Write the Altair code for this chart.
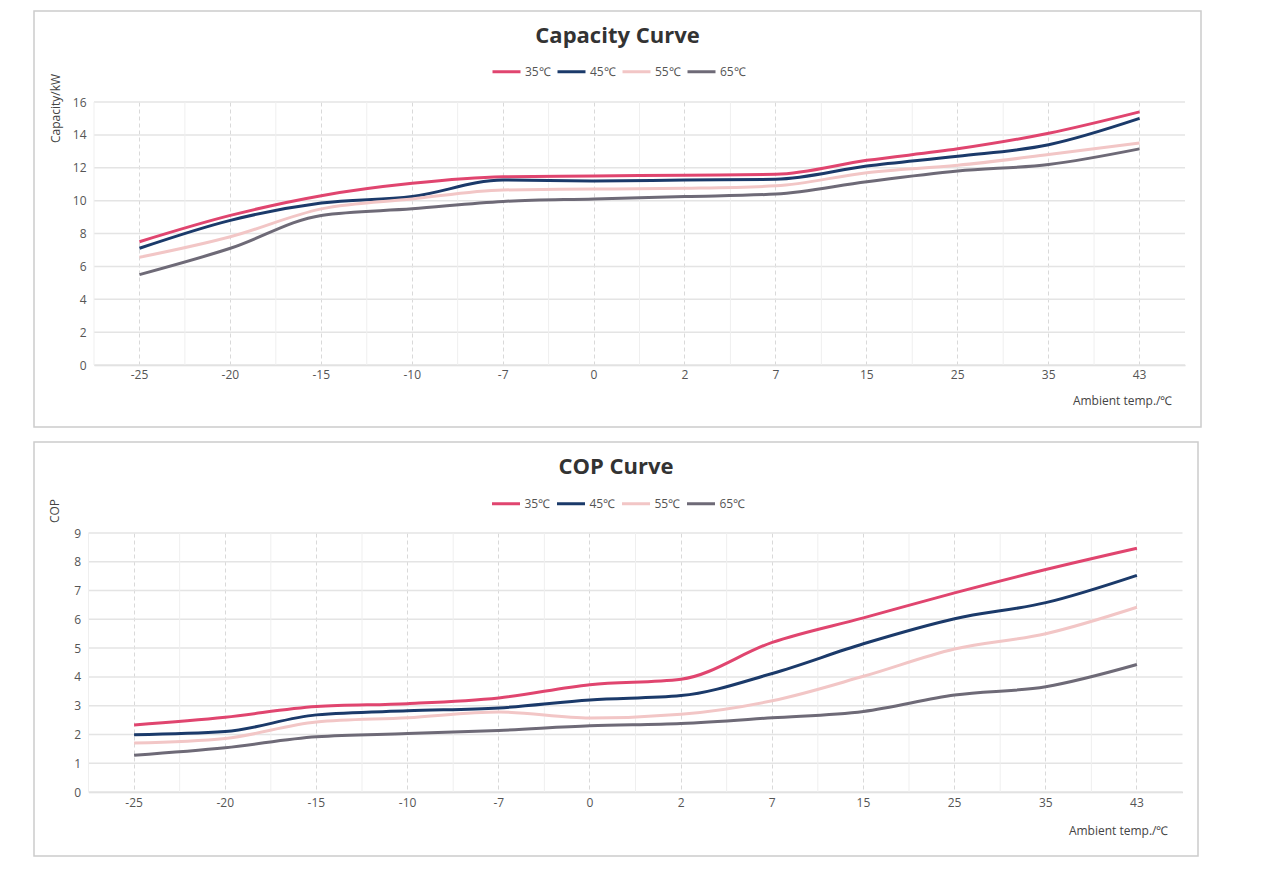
import altair as alt
import pandas as pd

# ---------------- data ----------------
temps = ["-25", "-20", "-15", "-10", "-7", "0", "2", "7", "15", "25", "35", "43"]
series_names = ["35℃", "45℃", "55℃", "65℃"]
colors = ["#E0456F", "#1B3A6A", "#F2C6C6", "#6E6A77"]

cap_35 = [7.5, 9.1, 10.3, 11.05, 11.45, 11.5, 11.55, 11.6, 12.45, 13.15, 14.1, 15.4]
cap_45 = [7.1, 8.8, 9.85, 10.25, 11.25, 11.2, 11.25, 11.3, 12.1, 12.7, 13.4, 15.0]
cap_55 = [6.55, 7.8, 9.5, 10.1, 10.65, 10.7, 10.75, 10.9, 11.7, 12.15, 12.8, 13.5]
cap_65 = [5.5, 7.1, 9.1, 9.5, 9.95, 10.1, 10.25, 10.4, 11.15, 11.8, 12.2, 13.15]

cop_35 = [2.33, 2.6, 2.97, 3.07, 3.27, 3.73, 3.92, 5.2, 6.05, 6.92, 7.73, 8.47]
cop_45 = [1.99, 2.1, 2.68, 2.82, 2.92, 3.2, 3.35, 4.12, 5.15, 6.02, 6.58, 7.53]
cop_55 = [1.7, 1.86, 2.43, 2.58, 2.78, 2.57, 2.7, 3.17, 4.02, 4.97, 5.5, 6.42]
cop_65 = [1.28, 1.54, 1.92, 2.03, 2.14, 2.3, 2.38, 2.58, 2.8, 3.37, 3.66, 4.43]

cap_ticks = [0, 2, 4, 6, 8, 10, 12, 14, 16]
cop_ticks = [0, 1, 2, 3, 4, 5, 6, 7, 8, 9]

cap_title = "Capacity Curve"
cop_title = "COP Curve"
cap_ytitle = "Capacity/kW"
cop_ytitle = "COP"
x_title = "Ambient temp./℃"

FONT = "Open Sans"


def long_df(cols):
    rows = []
    for name, vals in zip(series_names, cols):
        for t, v in zip(temps, vals):
            rows.append({"temp": t, "series": name, "value": v})
    return pd.DataFrame(rows)


def panel(df, title, ytitle, ticks, W, H, x0, frame, title_xy, legend_xy,
          ytitle_xy, xtitle_xy, xlabel_pad, ylabel_pad):
    # x0: left edge of the band area relative to the group origin
    xscale = alt.Scale(type="band", paddingInner=0, paddingOuter=0, domain=temps,
                       range=[x0, W])
    yscale = alt.Scale(domain=[ticks[0], ticks[-1]], nice=False)
    x_axis = alt.Axis(
        title=x_title, bandPosition=0.5, grid=True, gridColor="#d9d9d9",
        gridDash=[4, 3], gridWidth=1, ticks=False, domain=True,
        domainColor="#dcdcdc", domainWidth=1.5, labelAngle=0, labelAlign="center",
        labelFontSize=12, labelColor="#555555", labelPadding=xlabel_pad,
        labelFont=FONT, titleFont=FONT, titleFontSize=12, titleFontWeight="normal",
        titleColor="#444444", titleX=xtitle_xy[0], titleY=xtitle_xy[1],
        titleAlign="right", titleBaseline="middle",
    )
    y_axis = alt.Axis(
        title=ytitle, values=ticks, grid=False,
        domain=False, ticks=False, labelPadding=ylabel_pad, labelFontSize=12,
        labelColor="#555555", labelFont=FONT, titleFont=FONT, titleFontSize=12,
        titleFontWeight="normal", titleColor="#444444", titleAngle=270,
        titleX=ytitle_xy[0], titleY=ytitle_xy[1], titleAlign="center",
        titleBaseline="middle",
    )

    frame_layer = alt.Chart(pd.DataFrame({"a": [0]})).mark_rect(
        filled=False, stroke="#cccccc", strokeWidth=1.5
    ).encode(
        x=alt.value(frame[0]), x2=alt.value(frame[1]),
        y=alt.value(frame[2]), y2=alt.value(frame[3]),
    )

    h_grid = alt.Chart(pd.DataFrame({"value": ticks})).mark_rule(
        color="#e4e4e4", strokeWidth=1.5
    ).encode(
        y=alt.Y("value:Q", scale=yscale, axis=y_axis),
        x=alt.value(x0), x2=alt.value(W),
    )

    band_rules = alt.Chart(pd.DataFrame({"temp": temps})).mark_rule(
        color="#efefef", strokeWidth=1
    ).encode(
        x=alt.X("temp:N", sort=temps, scale=xscale, bandPosition=0),
        y=alt.value(0), y2=alt.value(H),
    )

    lines = alt.Chart(df).mark_line(interpolate="monotone", strokeWidth=3).encode(
        x=alt.X("temp:N", sort=temps, scale=xscale, axis=x_axis),
        y=alt.Y("value:Q", scale=yscale, axis=y_axis),
        color=alt.Color(
            "series:N",
            scale=alt.Scale(domain=series_names, range=colors),
            sort=series_names,
            legend=alt.Legend(
                title=None, orient="none", legendX=legend_xy[0], legendY=legend_xy[1],
                direction="horizontal", symbolType="stroke", symbolStrokeWidth=3,
                symbolSize=784, labelFontSize=12, labelColor="#555555",
                labelFont=FONT, columnPadding=0, labelOffset=3,
            ),
        ),
    )

    title_text = alt.Chart(pd.DataFrame({"t": [title]})).mark_text(
        fontSize=22, fontWeight="bold", font=FONT, color="#333333",
        align="center", baseline="middle",
    ).encode(x=alt.value(title_xy[0]), y=alt.value(title_xy[1]), text="t:N")

    return alt.layer(frame_layer, h_grid, band_rules, lines, title_text).properties(
        width=W, height=H
    )


top = panel(
    long_df([cap_35, cap_45, cap_55, cap_65]), cap_title, cap_ytitle, cap_ticks,
    W=1091, H=263, x0=0,
    frame=(-60, 1107, -91, 325),
    title_xy=(523.5, -66),
    legend_xy=(397, -46),
    ytitle_xy=(-39, 6),
    xtitle_xy=(1078, 35),
    xlabel_pad=9, ylabel_pad=8,
)

# bottom panel: its plot area starts 5.5 px further left than the top one
bottom = panel(
    long_df([cop_35, cop_45, cop_55, cop_65]), cop_title, cop_ytitle, cop_ticks,
    W=1088.5, H=259, x0=-5.5,
    frame=(-60, 1104, -91, 323),
    title_xy=(522, -66),
    legend_xy=(396.5, -45),
    ytitle_xy=(-39.5, -22.5),
    xtitle_xy=(1074, 38),
    xlabel_pad=10, ylabel_pad=13.5,
)

chart = alt.vconcat(top, bottom, spacing=11).resolve_scale(
    color="independent", x="independent", y="independent"
).resolve_legend(color="independent").properties(
    padding={"left": 24, "top": 1, "right": 5, "bottom": 5},
    background="white",
).configure_view(stroke="transparent")

chart.save("out.html", embed_options={"renderer": "svg", "actions": False})
